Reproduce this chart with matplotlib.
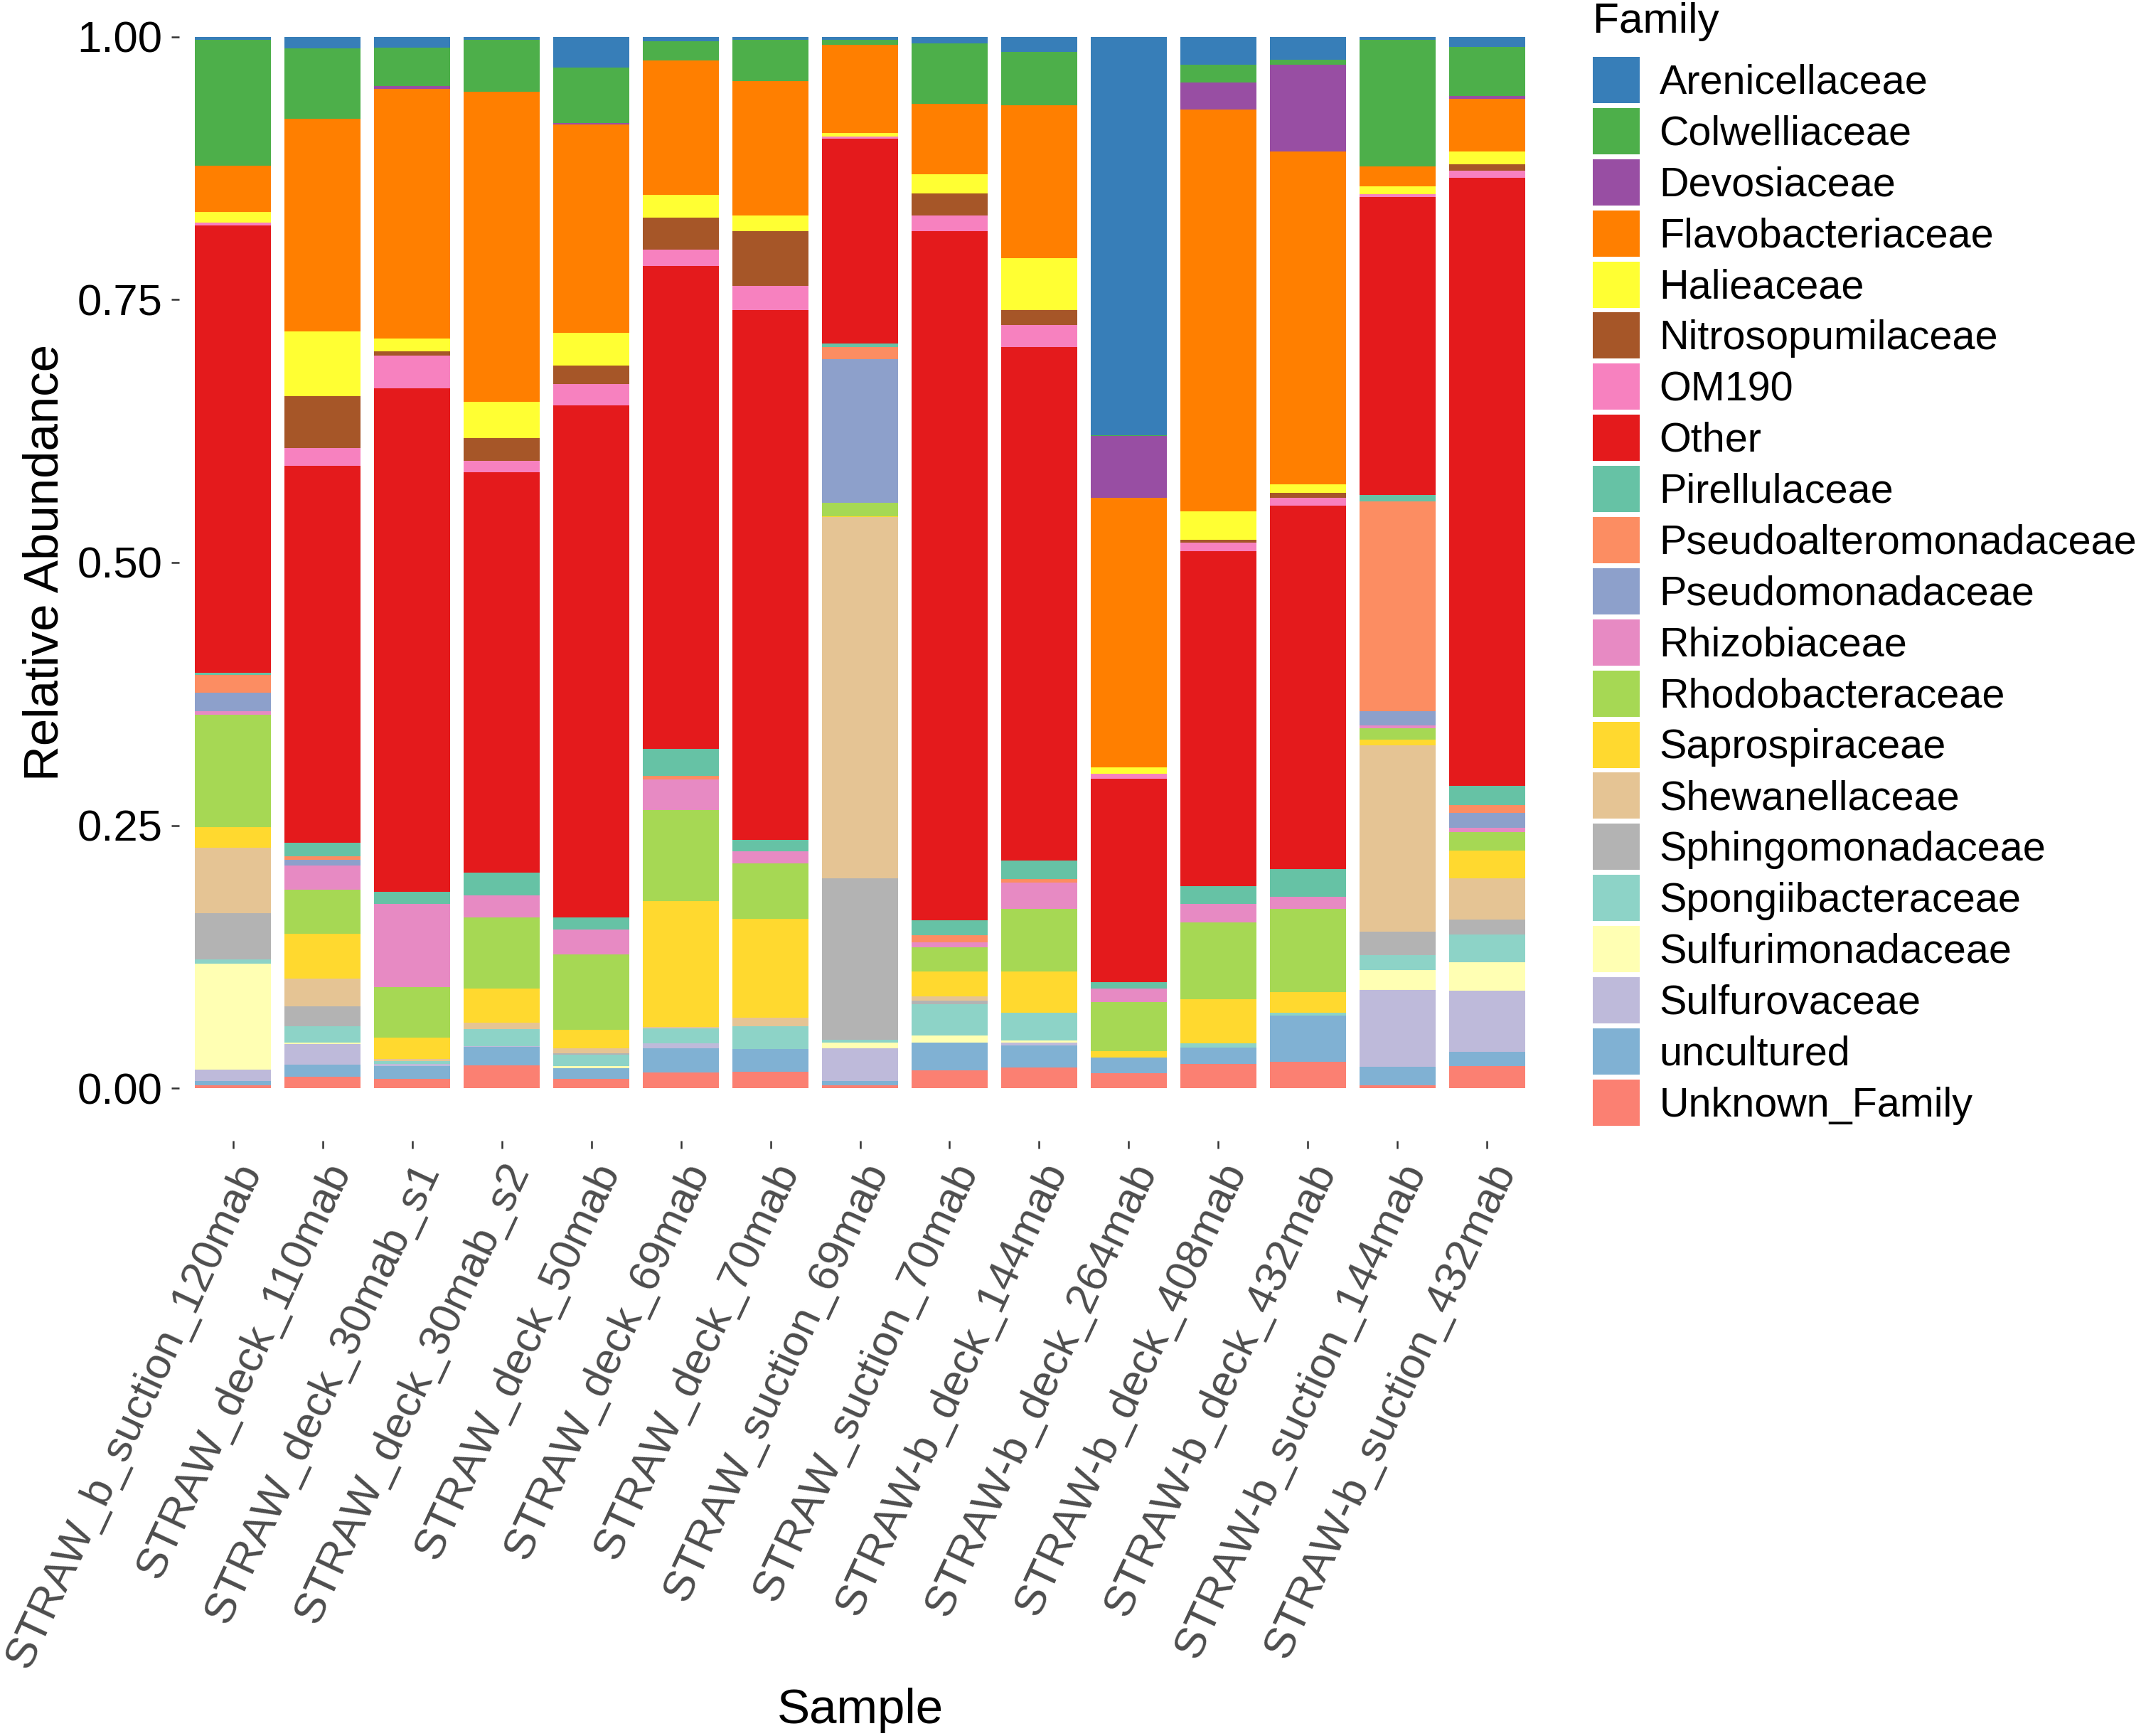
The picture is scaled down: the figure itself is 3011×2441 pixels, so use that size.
import numpy as np
import matplotlib
matplotlib.use("Agg")
import matplotlib.pyplot as plt
import matplotlib.transforms as mtrans

plt.rcParams['font.family'] = ['Liberation Sans', 'DejaVu Sans']

samples = ["STRAW_b_suction_120mab", "STRAW_deck_110mab", "STRAW_deck_30mab_s1",
           "STRAW_deck_30mab_s2", "STRAW_deck_50mab", "STRAW_deck_69mab",
           "STRAW_deck_70mab", "STRAW_suction_69mab", "STRAW_suction_70mab",
           "STRAW-b_deck_144mab", "STRAW-b_deck_264mab", "STRAW-b_deck_408mab",
           "STRAW-b_deck_432mab", "STRAW-b_suction_144mab", "STRAW-b_suction_432mab"]

# relative abundance per family, one value per sample (same order as samples)
arenicellaceae = [0.003, 0.011, 0.0104, 0.0026, 0.0293, 0.004, 0.003, 0.003, 0.006, 0.0143, 0.3787, 0.0267, 0.0221, 0.003, 0.0098]
colwelliaceae = [0.120, 0.067, 0.0364, 0.0494, 0.0527, 0.0182, 0.039, 0.0046, 0.0579, 0.0507, 0.001, 0.0169, 0.0046, 0.1204, 0.0468]
devosiaceae = [0, 0, 0.0026, 0, 0.001, 0, 0, 0, 0, 0, 0.0586, 0.0254, 0.0826, 0, 0.0026]
flavobacteriaceae = [0.044, 0.2017, 0.237, 0.2947, 0.1984, 0.1282, 0.128, 0.0839, 0.067, 0.1451, 0.257, 0.3826, 0.3162, 0.0189, 0.0501]
halieaceae = [0.010, 0.0618, 0.0124, 0.0345, 0.0306, 0.0215, 0.015, 0.003, 0.0182, 0.0494, 0.006, 0.0267, 0.0085, 0.0072, 0.0117]
nitrosopumilaceae = [0, 0.0494, 0.004, 0.0221, 0.0176, 0.0306, 0.052, 0, 0.0208, 0.0143, 0, 0.003, 0.0046, 0, 0.0065]
om190 = [0.003, 0.0169, 0.031, 0.0104, 0.0202, 0.0156, 0.0228, 0.002, 0.015, 0.0208, 0.0046, 0.0078, 0.0072, 0.003, 0.0065]
other = [0.426, 0.3585, 0.478, 0.381, 0.4867, 0.4587, 0.5036, 0.1952, 0.6552, 0.4886, 0.1932, 0.3188, 0.3461, 0.283, 0.5784]
pirellulaceae = [0.002, 0.0124, 0.0117, 0.0215, 0.0117, 0.026, 0.011, 0.003, 0.0143, 0.0176, 0.006, 0.0169, 0.026, 0.0065, 0.0182]
pseudoalteromonadaceae = [0.017, 0.004, 0, 0, 0, 0.003, 0, 0.0117, 0.0065, 0.003, 0, 0, 0, 0.1991, 0.0078]
pseudomonadaceae = [0.018, 0.005, 0, 0, 0, 0, 0, 0.1366, 0, 0, 0, 0, 0, 0.0137, 0.0137]
rhizobiaceae = [0.003, 0.0228, 0.079, 0.0208, 0.0234, 0.0293, 0.011, 0, 0.005, 0.0254, 0.013, 0.0176, 0.0117, 0.0026, 0.0046]
rhodobacteraceae = [0.107, 0.0423, 0.048, 0.0677, 0.0716, 0.0865, 0.0527, 0.0124, 0.0228, 0.0592, 0.0468, 0.0729, 0.0794, 0.011, 0.0176]
saprospiraceae = [0.020, 0.0423, 0.020, 0.0325, 0.018, 0.1197, 0.0943, 0.001, 0.024, 0.039, 0.006, 0.0423, 0.0195, 0.0052, 0.026]
shewanellaceae = [0.062, 0.0267, 0.002, 0.006, 0.0045, 0.001, 0.0078, 0.3435, 0.004, 0, 0, 0, 0, 0.177, 0.039]
sphingomonadaceae = [0.044, 0.0189, 0, 0, 0.0013, 0, 0, 0.153, 0.003, 0, 0, 0, 0, 0.0228, 0.0143]
spongiibacteraceae = [0.004, 0.0156, 0.003, 0.0163, 0.011, 0.0143, 0.0221, 0.0026, 0.03, 0.0267, 0, 0.004, 0.0026, 0.0137, 0.0267]
sulfurimonadaceae = [0.101, 0.001, 0, 0, 0.002, 0, 0, 0.006, 0.0065, 0.002, 0, 0, 0, 0.0195, 0.0273]
sulfurovaceae = [0.011, 0.0195, 0.002, 0.001, 0, 0.005, 0, 0.031, 0, 0.003, 0, 0, 0, 0.0729, 0.0579]
uncultured = [0.004, 0.0117, 0.0117, 0.0176, 0.0098, 0.0228, 0.0215, 0.004, 0.0267, 0.0208, 0.015, 0.0156, 0.0436, 0.0176, 0.0137]
unknown_family = [0.003, 0.011, 0.009, 0.0215, 0.009, 0.015, 0.0156, 0.0026, 0.0169, 0.0195, 0.0143, 0.0228, 0.0254, 0.0026, 0.0208]

families = ["Arenicellaceae", "Colwelliaceae", "Devosiaceae", "Flavobacteriaceae", "Halieaceae",
            "Nitrosopumilaceae", "OM190", "Other", "Pirellulaceae", "Pseudoalteromonadaceae",
            "Pseudomonadaceae", "Rhizobiaceae", "Rhodobacteraceae", "Saprospiraceae",
            "Shewanellaceae", "Sphingomonadaceae", "Spongiibacteraceae", "Sulfurimonadaceae",
            "Sulfurovaceae", "uncultured", "Unknown_Family"]
values = [arenicellaceae, colwelliaceae, devosiaceae, flavobacteriaceae, halieaceae,
          nitrosopumilaceae, om190, other, pirellulaceae, pseudoalteromonadaceae,
          pseudomonadaceae, rhizobiaceae, rhodobacteraceae, saprospiraceae,
          shewanellaceae, sphingomonadaceae, spongiibacteraceae, sulfurimonadaceae,
          sulfurovaceae, uncultured, unknown_family]
colors = ["#377EB8", "#4DAF4A", "#984EA3", "#FF7F00", "#FFFF33", "#A65628", "#F781BF",
          "#E41A1C", "#66C2A5", "#FC8D62", "#8DA0CB", "#E78AC3", "#A6D854", "#FFD92F",
          "#E5C494", "#B3B3B3", "#8DD3C7", "#FFFFB3", "#BEBADA", "#80B1D3", "#FB8072"]

W, H = 3011, 2441
fig = plt.figure(figsize=(W / 300, H / 300), dpi=300)
ax = fig.add_axes([252 / W, 1 - 1604 / H, (2167 - 252) / W, (1604 - 40) / H])

data = np.array(values)
data = data / data.sum(axis=0)
x = np.arange(len(samples))

# ggplot stacks the first level on top, so start from the last family
bars = {}
bottom = np.zeros(len(samples))
for i in range(len(families) - 1, -1, -1):
    bars[families[i]] = ax.bar(x, data[i], bottom=bottom, width=0.85, color=colors[i], linewidth=0)
    bottom = bottom + data[i]

ax.set_xlim(-0.6, len(samples) - 0.4)
ax.set_ylim(-0.05, 1.008)
ax.set_yticks([0, 0.25, 0.5, 0.75, 1.0])
ax.set_yticklabels(["0.00", "0.25", "0.50", "0.75", "1.00"])
ax.set_xticks(x)
ax.set_xticklabels(samples, rotation=65, ha="right", va="baseline", rotation_mode="anchor",
                   color="#4D4D4D")
for s in ax.spines.values():
    s.set_visible(False)
ax.tick_params(axis="both", length=2.7, width=0.6, color="#333333", labelsize=14.8)
ax.tick_params(axis="y", pad=3, labelcolor="black")
ax.tick_params(axis="x", pad=2)
shift = mtrans.ScaledTranslation(9.4 / 72, -5.2 / 72, fig.dpi_scale_trans)
for lbl in ax.get_xticklabels():
    lbl.set_transform(lbl.get_transform() + shift)

ax.set_ylabel("Relative Abundance", fontsize=16.6)
ax.set_xlabel("Sample", fontsize=16.6)
ax.yaxis.set_label_coords(-0.0815, 0.52)
ax.xaxis.set_label_coords(0.5, -0.492)

fig.text(2240 / W, 1 - 46 / H, "Family", fontsize=14.5, va="baseline", ha="left")
leg = fig.legend([bars[f] for f in families], families,
                 loc="upper left", bbox_to_anchor=(2240 / W, 1 - 80 / H), frameon=False,
                 fontsize=13.8, handlelength=1.148, handleheight=1.362,
                 labelspacing=0.12, handletextpad=0.48, borderpad=0, borderaxespad=0)

fig.savefig("out.png", dpi=300)
